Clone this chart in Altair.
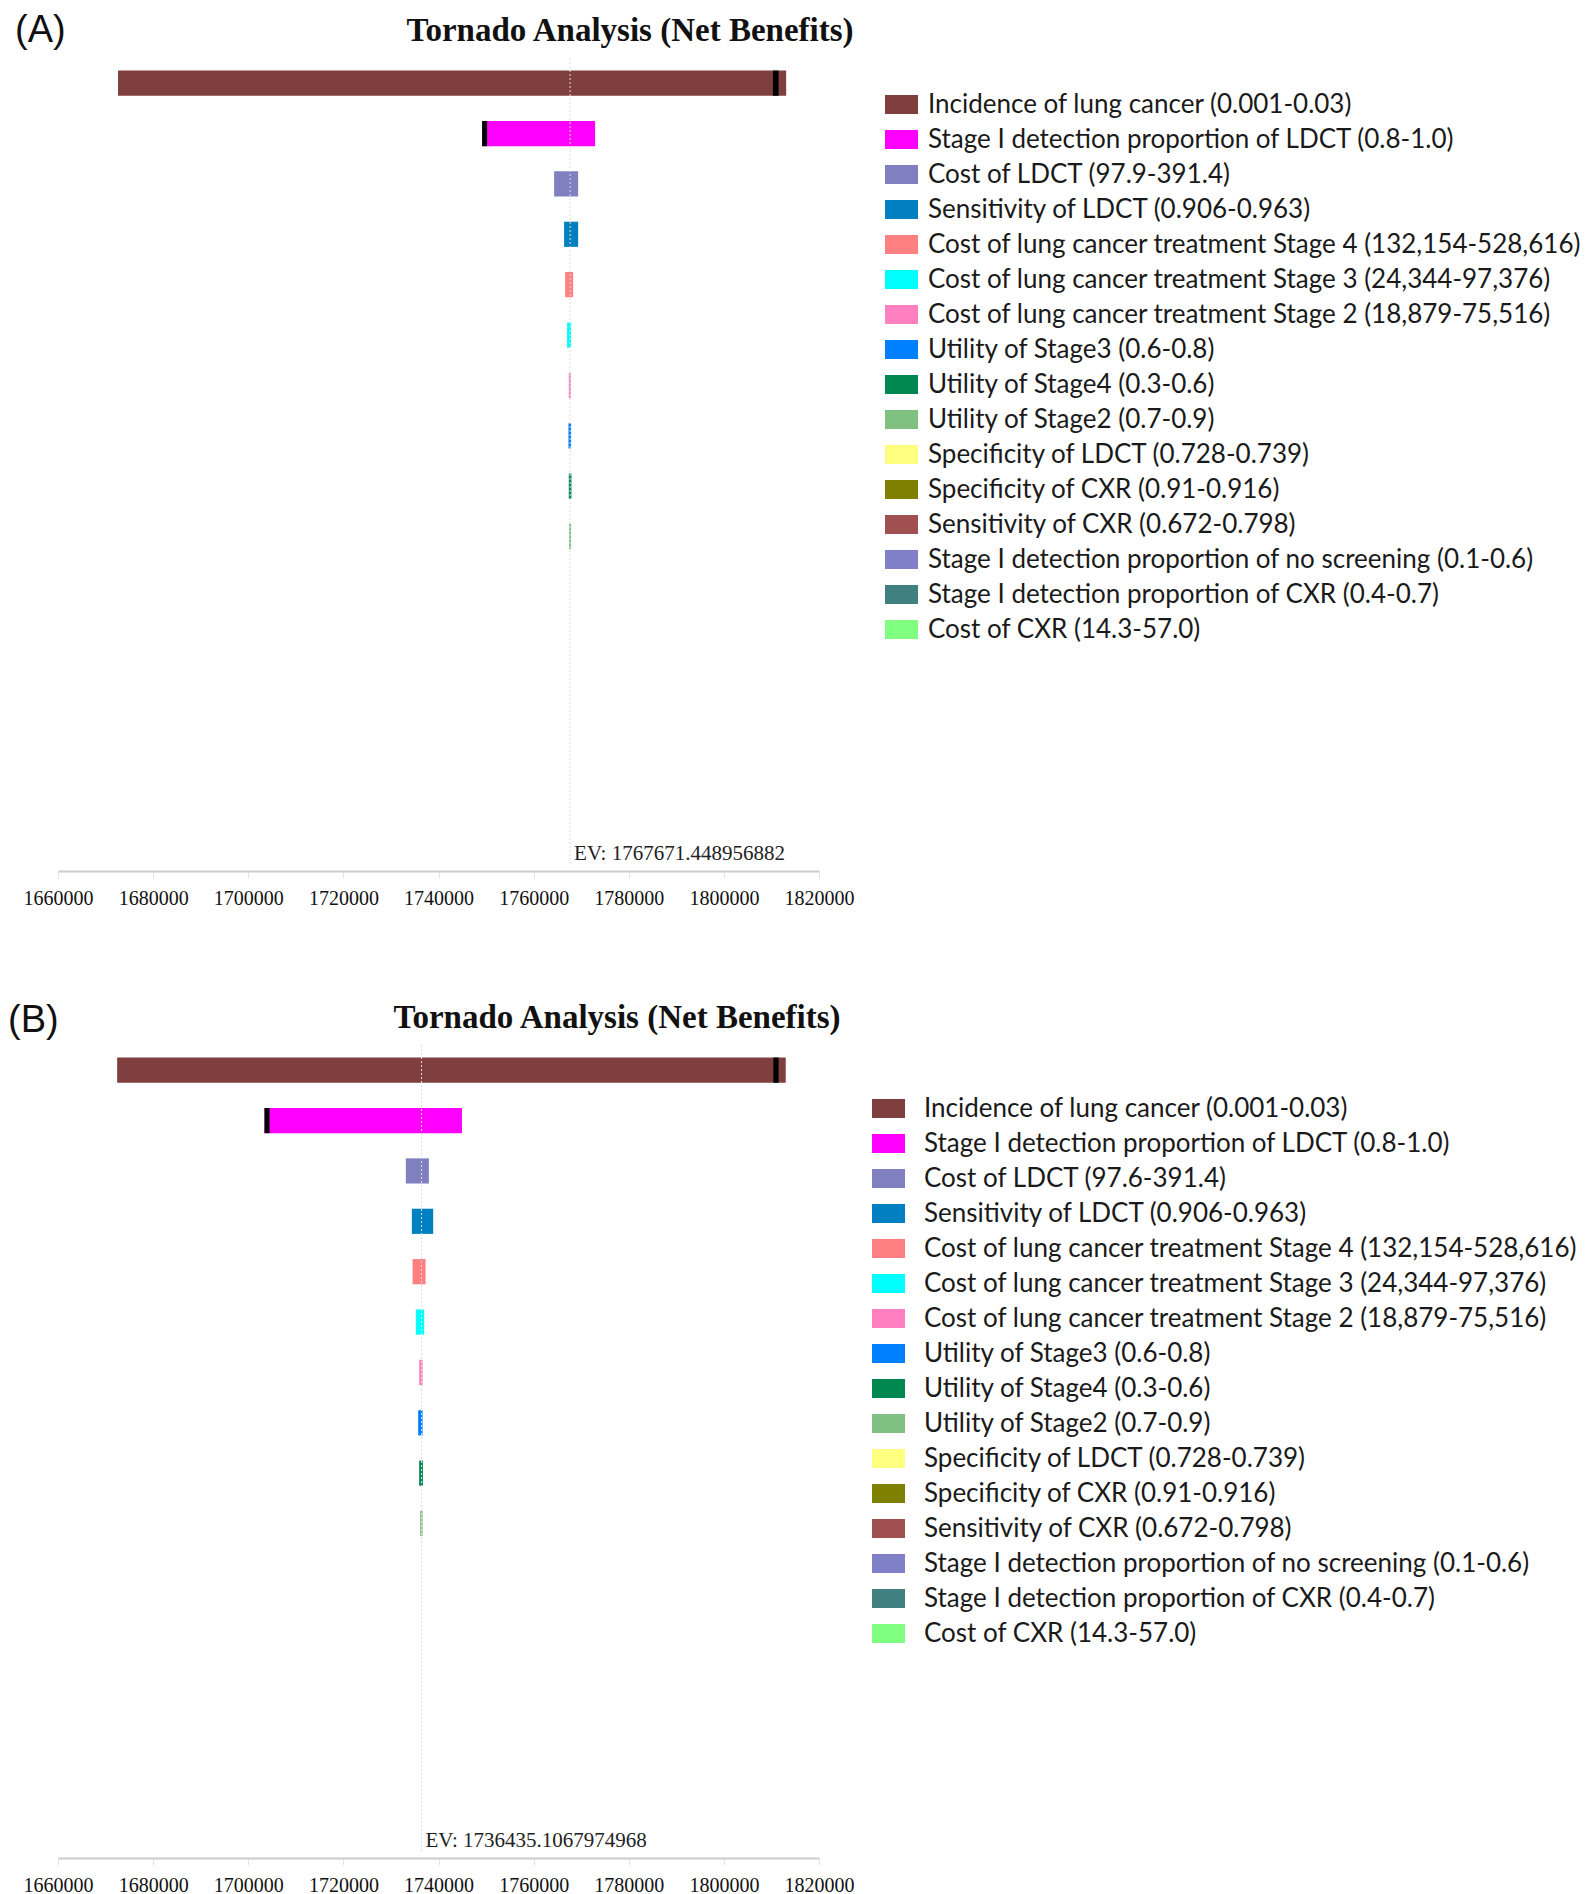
import altair as alt
import pandas as pd

# ---------------- data ----------------
labels_A = [
    "Incidence of lung cancer (0.001-0.03)",
    "Stage I detection proportion of LDCT (0.8-1.0)",
    "Cost of  LDCT (97.9-391.4)",
    "Sensitivity of LDCT (0.906-0.963)",
    "Cost of lung cancer treatment Stage 4 (132,154-528,616)",
    "Cost of lung cancer treatment Stage 3 (24,344-97,376)",
    "Cost of lung cancer treatment Stage 2 (18,879-75,516)",
    "Utility of Stage3 (0.6-0.8)",
    "Utility of Stage4 (0.3-0.6)",
    "Utility of Stage2 (0.7-0.9)",
    "Specificity of LDCT (0.728-0.739)",
    "Specificity of CXR (0.91-0.916)",
    "Sensitivity of CXR (0.672-0.798)",
    "Stage I detection proportion of no screening (0.1-0.6)",
    "Stage I detection proportion of CXR (0.4-0.7)",
    "Cost of CXR (14.3-57.0)",
]
labels_B = list(labels_A)
labels_B[2] = "Cost of LDCT (97.6-391.4)"

colors = [
    "#7f3f3f", "#ff00ff", "#8080c0", "#0080c0", "#ff8080", "#00ffff",
    "#ff80c0", "#0080ff", "#008850", "#80c080", "#ffff80", "#808000",
    "#a05050", "#8080c8", "#408080", "#80ff80",
]

EV_A = 1767671.448956882
EV_B = 1736435.1067974968

low_A = [1672620, 1749170, 1764310, 1766410, 1766620, 1767040, 1767390, 1767320,
         1767390, 1767460, 1767671, 1767671, 1767671, 1767671, 1767671, 1767671]
high_A = [1813100, 1772930, 1769360, 1769360, 1768300, 1767880, 1767810, 1767880,
          1767950, 1767880, 1767671, 1767671, 1767671, 1767671, 1767671, 1767671]
marker_lo_A = [1810300, 1749170]
marker_hi_A = [1811500, 1750220]

low_B = [1672434, 1703415, 1733130, 1734394, 1734540, 1735237, 1735933, 1735722,
         1735933, 1736143, 1736435, 1736435, 1736435, 1736435, 1736435, 1736435]
high_B = [1813005, 1744932, 1737978, 1738883, 1737281, 1736984, 1736650, 1736650,
          1736720, 1736650, 1736435, 1736435, 1736435, 1736435, 1736435, 1736435]
marker_lo_B = [1810400, 1703415]
marker_hi_B = [1811500, 1704470]

tick_values = [1660000, 1680000, 1700000, 1720000, 1740000,
               1760000, 1780000, 1800000, 1820000]

TITLE = "Tornado Analysis (Net Benefits)"

W, H = 761, 806
SWATCH = "M-1,-0.576H1V0.576H-1Z"


def panel(tag, labels, low, high, mlo, mhi, ev, ev_text,
          title_cx, tag_x, tag_y, tag_baseline, legend_x, legend_y, label_offset):
    df = pd.DataFrame({"label": labels, "low": low, "high": high})
    mdf = pd.DataFrame({"label": labels[:len(mlo)], "lo": mlo, "hi": mhi})
    evdf = pd.DataFrame({"ev": [ev], "t": [ev_text]})

    xscale = alt.Scale(domain=[1660000, 1820000], nice=False, zero=False)
    yscale = alt.Scale(domain=labels, paddingInner=0.5, paddingOuter=0.25)
    yenc = alt.Y("label:N", sort=labels, axis=None, scale=yscale)

    xaxis = alt.Axis(
        values=tick_values, format="d", title=None, offset=7,
        domainColor="#cccccc", domainWidth=2,
        tickColor="#e3e3e3", tickSize=7, tickWidth=1,
        labelFont="Liberation Serif", labelFontSize=20, labelColor="#111111",
        labelPadding=10, grid=False, labelFlush=False, labelOverlap=False,
    )

    bars = alt.Chart(df).mark_bar(opacity=1).encode(
        x=alt.X("low:Q", scale=xscale, axis=xaxis),
        x2="high:Q",
        y=yenc,
        color=alt.Color(
            "label:N", sort=labels,
            scale=alt.Scale(domain=labels, range=colors),
            legend=alt.Legend(
                orient="none", legendX=legend_x, legendY=legend_y,
                direction="vertical", title=None,
                symbolType=SWATCH, symbolSize=1089, symbolStrokeWidth=0,
                symbolOpacity=1,
                labelFont="Lato", labelFontSize=26, labelColor="#1a1a1a",
                labelLimit=1000, labelOffset=label_offset,
                rowPadding=5, padding=0,
            ),
        ),
    )

    markers = alt.Chart(mdf).mark_bar(color="black").encode(
        x=alt.X("lo:Q", scale=xscale), x2="hi:Q", y=yenc
    )

    rule = alt.Chart(evdf).mark_rule(
        color="#dddddd", strokeWidth=1, strokeDash=[2, 2]
    ).encode(x=alt.X("ev:Q", scale=xscale))

    evtext = alt.Chart(evdf).mark_text(
        align="left", baseline="middle", dx=4,
        font="Liberation Serif", fontSize=21, color="#222222",
    ).encode(x=alt.X("ev:Q", scale=xscale), y=alt.value(796), text="t:N")

    title = alt.Chart(pd.DataFrame({"t": [TITLE]})).mark_text(
        align="center", baseline="middle",
        font="Liberation Serif", fontSize=33, fontWeight="bold", color="#111111",
    ).encode(x=alt.value(title_cx), y=alt.value(-27), text="t:N")

    tagt = alt.Chart(pd.DataFrame({"t": [tag]})).mark_text(
        align="left", baseline=tag_baseline,
        font="Liberation Sans", fontSize=38, color="#111111",
    ).encode(x=alt.value(tag_x), y=alt.value(tag_y), text="t:N")

    return alt.layer(bars, markers, rule, evtext, title, tagt).properties(
        width=W, height=H
    )


panel_A = panel("(A)", labels_A, low_A, high_A, marker_lo_A, marker_hi_A,
                EV_A, "EV: 1767671.448956882",
                title_cx=572, tag_x=-43, tag_y=-46, tag_baseline="top",
                legend_x=827, legend_y=30, label_offset=10)
panel_B = panel("(B)", labels_B, low_B, high_B, marker_lo_B, marker_hi_B,
                EV_B, "EV: 1736435.1067974968",
                title_cx=559, tag_x=-50, tag_y=-24, tag_baseline="middle",
                legend_x=814, legend_y=47, label_offset=19)

chart = alt.vconcat(panel_A, panel_B, spacing=94).resolve_scale(
    x="independent", y="independent", color="independent"
).resolve_legend(color="independent").properties(
    padding={"left": 0, "top": 4, "right": 0, "bottom": 0},
    background="white",
).configure_view(stroke=None)

chart.save("out.html", embed_options={"renderer": "svg", "actions": False})
